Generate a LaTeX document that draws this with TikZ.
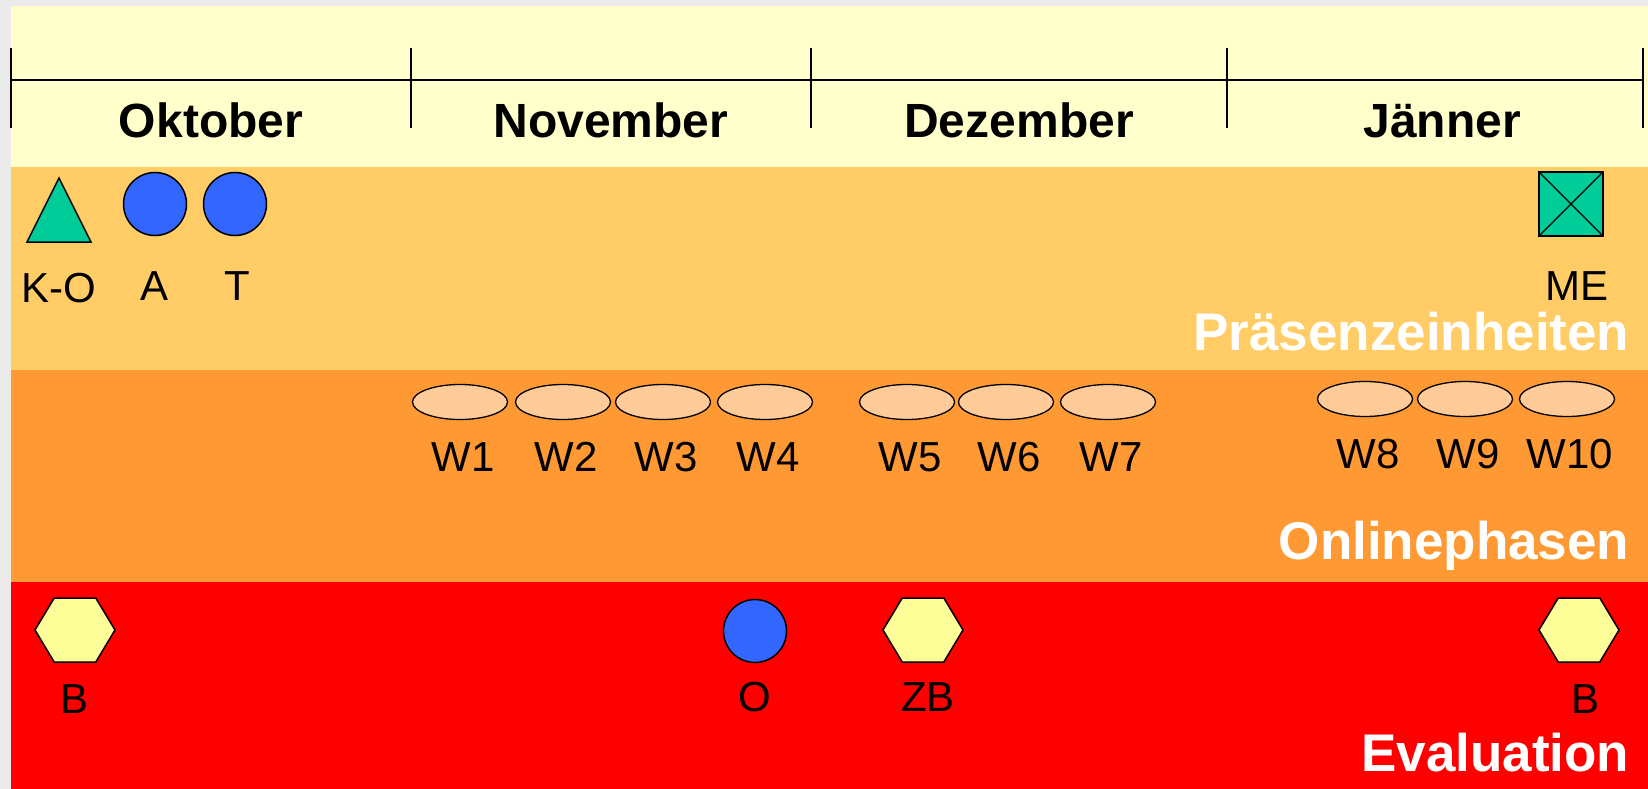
\documentclass[tikz,border=0pt]{standalone}
\usepackage{fontspec}
\setmainfont{Liberation Sans}
\usetikzlibrary{shapes.geometric,shapes.symbols}

\definecolor{margingrey}{HTML}{EBEBEB}
\definecolor{monthband}{HTML}{FFFFCC}
\definecolor{presband}{HTML}{FFCC66}
\definecolor{onlineband}{HTML}{FF9933}
\definecolor{evalband}{HTML}{FF0000}
\definecolor{markgreen}{HTML}{00CC99}
\definecolor{markblue}{HTML}{3366FF}
\definecolor{weekfill}{HTML}{FFCC99}
\definecolor{hexfill}{HTML}{FFFF99}

\newcommand\monthfont{\fontsize{48}{56}\selectfont\bfseries}
\newcommand\markfont{\fontsize{42}{50}\selectfont}
\newcommand\bandfont{\fontsize{53}{60}\selectfont\bfseries}

\begin{document}
\begin{tikzpicture}[x=1pt,y=-1pt,line width=1.5pt,
                    every label/.style={font=\markfont,inner sep=0pt,outer sep=0pt},
                    axis/.style={line width=1.6pt},
                    month/.style={font=\monthfont,anchor=base,inner sep=0pt},
                    bandtitle/.style={font=\bandfont,text=white,anchor=base east,inner sep=0pt},
                    dot/.style={circle,draw,fill=markblue,minimum size=63pt,inner sep=0pt,outer sep=0pt},
                    kickoff/.style={isosceles triangle,shape border rotate=90,isosceles triangle stretches,
                                    draw,fill=markgreen,minimum width=64pt,minimum height=64pt,
                                    inner sep=0pt,outer sep=0pt,anchor=south},
                    crossbox/.style={rectangle,draw,fill=markgreen,minimum size=64pt,inner sep=0pt,outer sep=0pt,
                                     path picture={\draw[line width=1.2pt]
                                       (path picture bounding box.north west) -- (path picture bounding box.south east)
                                       (path picture bounding box.north east) -- (path picture bounding box.south west);}},
                    week/.style={ellipse,draw,line width=1.3pt,fill=weekfill,minimum width=95pt,minimum height=35pt,
                                 inner sep=0pt,outer sep=0pt},
                    survey/.style={signal,signal to=east and west,signal pointer angle=118,draw,fill=hexfill,
                                   minimum width=80pt,minimum height=64pt,inner sep=0pt,outer sep=0pt}]

  % bands
  \fill[margingrey] (0,0) rectangle (1648,789);
  \fill[monthband]  (11,6)   rectangle (1648,167);
  \fill[presband]   (11,167) rectangle (1648,370);
  \fill[onlineband] (11,370) rectangle (1648,582);
  \fill[evalband]   (11,582) rectangle (1648,789);

  % time axis
  \foreach \x [count=\i from 0] in {11,411,811,1227,1643}
    \coordinate (t\i) at (\x,80);
  \draw[axis] (t0) -- (t4);
  \foreach \i in {0,...,4}
    \draw[axis] (t\i) ++(0,-32) -- ++(0,80);

  \node[month] (okt) at (211,137)  {Oktober};
  \node[month] (nov) at (611,137)  {November};
  \node[month] (dez) at (1019,137) {Dezember};
  \node[month] (jan) at (1442,137) {Jänner};

  % Praesenzeinheiten
  \node[kickoff]
    (KO) at (59,242) [label={[label distance=31pt]below:K-O}] {};
  \node[dot]
    (A) at (155,204) [label={[label distance=36pt]below:A}] {};
  \node[dot]
    (T) at (235,204) [label={[label distance=36pt,xshift=2pt]below:T}] {};
  \node[crossbox]
    (ME) at (1571,204) [label={[label distance=36pt,xshift=6pt]below:ME}] {};
  \node[bandtitle] (pres) at (1630,350) {Präsenzeinheiten};

  % Onlinephasen
  \foreach \x/\w in {460/1,563/2,663/3,765/4,907/5,1006/6,1108/7}
    \node[week] (W\w) at (\x,402) [label={[label distance=23pt,xshift=3pt]below:W\w}] {};
  \foreach \x/\w in {1365/8,1465/9,1567/10}
    \node[week] (W\w) at (\x,399) [label={[label distance=23pt,xshift=3pt]below:W\w}] {};
  \node[bandtitle] (online) at (1630,559) {Onlinephasen};

  % Evaluation
  \node[survey]
    (B1) at (75,630) [label={[label distance=23pt]below:B}] {};
  \node[dot]
    (O) at (755,631) [label={[label distance=20pt]below:O}] {};
  \node[survey]
    (ZB) at (923,630) [label={[label distance=21pt,xshift=5pt]below:ZB}] {};
  \node[survey]
    (B2) at (1579,630) [label={[label distance=23pt,xshift=6pt]below:B}] {};
  \node[bandtitle] (eval) at (1630,771) {Evaluation};

\end{tikzpicture}
\end{document}
